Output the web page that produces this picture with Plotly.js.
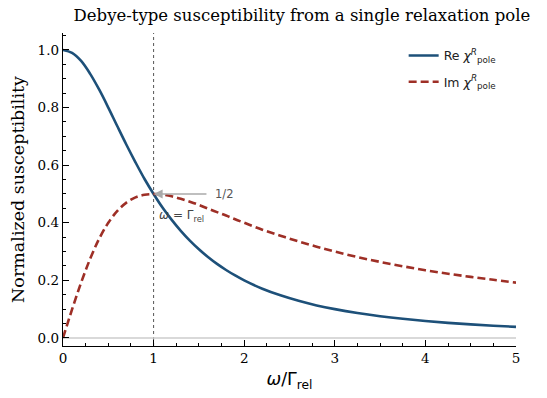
<!DOCTYPE html>
<html>
<head>
<meta charset="utf-8">
<script src="https://cdn.plot.ly/plotly-3.0.1.min.js"></script>
<style>html,body{margin:0;padding:0;background:#fff;}#chart{width:547px;height:398px;}</style>
</head>
<body>
<div id="chart"></div>
<script>
// omega / Gamma_rel sample points
const omega = [0,0.1,0.2,0.3,0.4,0.5,0.6,0.7,0.8,0.9,1.0,1.1,1.2,1.3,1.4,1.5,1.6,1.7,1.8,1.9,2.0,2.2,2.4,2.6,2.8,3.0,3.25,3.5,3.75,4.0,4.25,4.5,4.75,5.0];
// Re chi^R_pole
const reChi = [1.000,0.990,0.962,0.917,0.862,0.800,0.735,0.671,0.610,0.552,0.500,0.452,0.410,0.372,0.338,0.308,0.281,0.257,0.236,0.217,0.200,0.171,0.148,0.129,0.113,0.100,0.0865,0.0755,0.0664,0.0588,0.0524,0.0471,0.0425,0.0385];
// Im chi^R_pole
const imChi = [0.000,0.099,0.192,0.275,0.345,0.400,0.441,0.470,0.488,0.497,0.500,0.498,0.492,0.483,0.473,0.462,0.449,0.437,0.425,0.412,0.400,0.376,0.355,0.335,0.317,0.300,0.281,0.264,0.249,0.235,0.223,0.212,0.202,0.192];
const seriesNames = ['Re <i>χ</i><sup><i>R</i></sup><sub>pole</sub>', 'Im <i>χ</i><sup><i>R</i></sup><sub>pole</sub>'];
const xTicks = [0,1,2,3,4,5];
const yTicks = [0.0,0.2,0.4,0.6,0.8,1.0];
const peakOmega = 1.0, peakValue = 0.5;

const blue = '#1d5079', red = '#9e2f26';
const serif = 'DejaVu Serif, serif';
const sans = 'DejaVu Sans, sans-serif';

const traces = [
  {x: omega, y: reChi, name: seriesNames[0], mode: 'lines', line: {color: blue, width: 2.6, shape: 'spline'}, legendgroup: 'a'},
  {x: omega, y: imChi, name: seriesNames[1], mode: 'lines', line: {color: red, width: 2.6, dash: '8px,4px', shape: 'spline'}, legendgroup: 'b'}
];

const layout = {
  width: 547, height: 398,
  margin: {l: 63, r: 31, t: 33, b: 52},
  paper_bgcolor: '#fff', plot_bgcolor: '#fff',
  title: {text: 'Debye-type susceptibility from a single relaxation pole', font: {family: serif, size: 16.5, color: '#000'}, x: 0.552, xanchor: 'center', y: 0.963, yanchor: 'middle'},
  showlegend: true,
  legend: {x: 0.752, y: 0.975, xanchor: 'left', yanchor: 'top', bgcolor: 'rgba(0,0,0,0)', font: {family: sans, size: 12.5, color: '#222'}, traceorder: 'grouped', tracegroupgap: 7},
  xaxis: {
    range: [0, 5], tickvals: xTicks, ticktext: xTicks.map(String),
    ticks: 'inside', ticklen: 6, tickwidth: 1, tickcolor: '#000',
    showline: true, linecolor: '#000', linewidth: 1.2, showgrid: false, zeroline: false,
    tickfont: {family: serif, size: 13.5, color: '#000'},
    minor: {dtick: 0.25, ticks: 'inside', ticklen: 3, tickcolor: '#000', showgrid: false},
    title: {text: '<i>ω</i>/Γ<sub>rel</sub>', font: {family: sans, size: 17.5, color: '#000'}, standoff: 7}
  },
  yaxis: {
    range: [-0.028, 1.059], tickvals: yTicks, ticktext: yTicks.map(v => v.toFixed(1)),
    ticks: 'inside', ticklen: 6, tickwidth: 1, tickcolor: '#000',
    showline: true, linecolor: '#000', linewidth: 1.2, showgrid: false, zeroline: false,
    tickfont: {family: serif, size: 13.5, color: '#000'},
    minor: {dtick: 0.05, ticks: 'inside', ticklen: 3, tickcolor: '#000', showgrid: false},
    title: {text: 'Normalized susceptibility', font: {family: serif, size: 17.5, color: '#000'}, standoff: 8}
  },
  shapes: [
    {type: 'line', xref: 'x', yref: 'y', x0: 0, x1: 5, y0: 0, y1: 0, line: {color: '#cccccc', width: 1.5}, layer: 'below'},
    {type: 'line', xref: 'x', yref: 'paper', x0: peakOmega, x1: peakOmega, y0: 0, y1: 1, line: {color: '#555', width: 1, dash: 'dot'}, layer: 'below'}
  ],
  annotations: [
    {x: peakOmega, y: peakValue, ax: 1.6, ay: peakValue, xref: 'x', yref: 'y', axref: 'x', ayref: 'y', text: '', showarrow: true, arrowhead: 2, arrowsize: 1.2, arrowwidth: 1.5, arrowcolor: '#aaaaaa'},
    {x: 1.66, y: peakValue, xref: 'x', yref: 'y', text: '1/2', showarrow: false, xanchor: 'left', yanchor: 'middle', font: {family: sans, size: 11.5, color: '#555'}},
    {x: 1.04, y: 0.422, xref: 'x', yref: 'y', text: '<i>ω</i> = Γ<sub>rel</sub>', showarrow: false, xanchor: 'left', yanchor: 'middle', font: {family: sans, size: 12, color: '#444'}}
  ]
};

Plotly.newPlot('chart', traces, layout, {displayModeBar: false, staticPlot: true});
</script>
</body>
</html>
